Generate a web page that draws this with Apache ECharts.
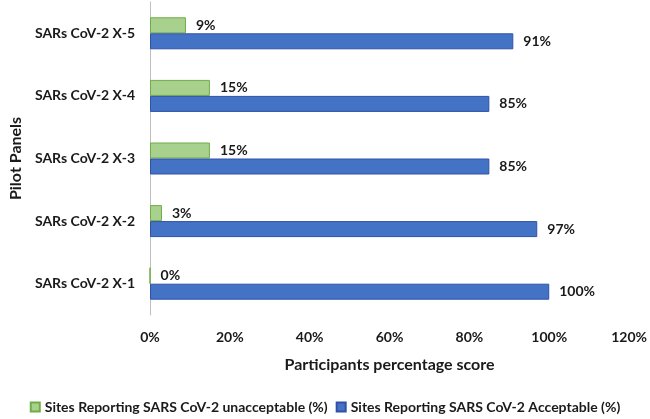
<!DOCTYPE html>
<html><head><meta charset="utf-8">
<script src="https://cdn.jsdelivr.net/npm/echarts@6/dist/echarts.min.js"></script>
<style>html,body{margin:0;padding:0;background:#fff}#c{width:650px;height:419px}</style>
</head><body><div id="c"></div>
<script>
const categories = ["SARs CoV-2 X-1","SARs CoV-2 X-2","SARs CoV-2 X-3","SARs CoV-2 X-4","SARs CoV-2 X-5"];
const unacceptable = [0, 3, 15, 15, 9];
const acceptable = [100, 97, 85, 85, 91];
const xTicks = [0, 20, 40, 60, 80, 100, 120];
const seriesNames = ["Sites Reporting SARS CoV-2 unacceptable (%)", "Sites Reporting SARS CoV-2 Acceptable (%)"];
const FONT = "Lato";
const chart = echarts.init(document.getElementById('c'));
const lbl = {show:true, position:'right', distance:10, formatter:p=>p.value+'%', fontFamily:FONT, fontWeight:'bold', fontSize:14, color:'#1a1a1a'};
chart.setOption({
  animation:false,
  textStyle:{fontFamily:FONT},
  grid:{left:137, right:20, top:2, bottom:104, containLabel:false},
  legend:{data:seriesNames, bottom:0, left:'center', itemWidth:9, itemHeight:9, itemGap:8, icon:'rect',
    textStyle:{fontFamily:FONT, fontWeight:'bold', fontSize:14, color:'#1a1a1a'}},
  xAxis:{type:'value', min:xTicks[0], max:xTicks[xTicks.length-1], interval:20,
    axisLine:{show:false}, axisTick:{show:false}, splitLine:{show:false},
    axisLabel:{formatter:v=>v+'%', fontFamily:FONT, fontWeight:'bold', fontSize:14, color:'#1a1a1a', margin:15},
    name:'Participants percentage score', nameLocation:'middle', nameGap:42,
    nameTextStyle:{fontFamily:FONT, fontWeight:'bold', fontSize:16, color:'#1a1a1a'}},
  yAxis:{type:'category', data:categories,
    axisLine:{show:true, lineStyle:{color:'#bfbfbf', width:1}}, axisTick:{show:false},
    axisLabel:{fontFamily:FONT, fontWeight:'bold', fontSize:14, color:'#1a1a1a', margin:15},
    name:'Pilot Panels', nameLocation:'middle', nameGap:122, nameRotate:90,
    nameTextStyle:{fontFamily:FONT, fontWeight:'bold', fontSize:16, color:'#1a1a1a'}},
  series:[
    {name:seriesNames[0], type:'bar', data:unacceptable, barWidth:16, barGap:'0%',
     itemStyle:{color:'#a9d18e', borderColor:'#70ad47', borderWidth:1}, label:lbl},
    {name:seriesNames[1], type:'bar', data:acceptable, barWidth:16, barGap:'0%',
     itemStyle:{color:'#4472c4', borderColor:'#2f52a8', borderWidth:1}, label:lbl}
  ]
});
</script></body></html>
